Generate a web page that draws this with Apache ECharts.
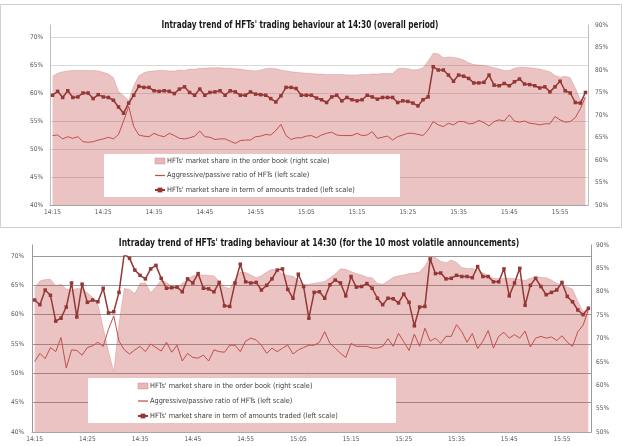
<!DOCTYPE html>
<html><head><meta charset="utf-8">
<script src="https://cdn.jsdelivr.net/npm/echarts@6/dist/echarts.min.js"></script>
<style>html,body{margin:0;padding:0;background:#fff}#c{width:623px;height:446px}</style>
</head><body><div id="c"></div>
<script>
// categories: one per minute, 14:15 .. 16:00
const minutes = [];
for (let m = 0; m < 106; m++) { const t = 14 * 60 + 15 + m; minutes.push(Math.floor(t / 60) + ':' + String(t % 60).padStart(2, '0')); }

const titleTop = "Intraday trend of HFTs' trading behaviour at 14:30 (overall period)";
const titleBottom = "Intraday trend of HFTs' trading behaviour at 14:30 (for the 10 most volatile announcements)";
const NAME_BOOK = "HFTs' market share in the order book (right scale)";
const NAME_RATIO = "Aggressive/passive ratio of HFTs (left scale)";
const NAME_TRADED = "HFTs' market share in term of amounts traded (left scale)";

// ---- top panel (overall period) ----
const topOrderBook = [78.6,79.3,79.6,79.8,79.9,79.9,79.9,79.9,79.9,79.8,
 79.5,79.1,78.3,75.2,74.3,73.2,76.5,78.7,79.4,79.7,
 79.8,79.9,79.9,79.8,79.8,80.0,79.9,80.2,80.1,80.4,
 80.4,80.5,80.5,80.5,80.4,80.4,80.3,80.2,80.0,79.9,
 79.8,80.0,80.3,80.4,80.3,80.0,79.8,79.6,79.5,79.4,
 79.3,79.2,79.1,79.1,79.0,79.0,79.0,79.0,78.9,78.9,
 78.9,79.0,79.0,79.1,79.1,79.2,79.2,79.2,80.3,80.4,
 80.3,80.0,80.1,80.5,82.0,83.7,83.6,82.7,82.9,82.8,
 82.6,82.2,81.6,81.2,81.1,81.0,80.8,80.5,80.2,79.9,
 79.9,80.4,80.6,80.6,80.5,80.4,80.2,79.9,79.6,78.8,
 78.4,78.6,78.3,76.0,73.3,73.8];
const topRatio = [52.4,52.5,51.8,52.2,51.9,52.2,51.3,51.2,51.3,51.6,
 51.8,52.1,51.8,52.6,55.0,57.6,54.0,52.5,52.3,52.2,
 52.8,52.4,52.2,52.8,52.4,51.9,51.8,52.0,52.3,53.2,
 52.2,52.1,51.7,51.8,51.8,51.4,51.0,51.5,51.6,51.6,
 52.2,52.3,52.6,52.5,53.3,54.4,52.4,51.7,52.0,52.0,
 52.3,52.4,52.0,52.5,52.8,53.0,52.5,52.4,52.4,52.4,
 52.8,52.4,52.5,53.1,51.9,52.1,52.3,51.6,52.2,52.5,
 52.8,52.8,52.6,52.4,53.4,54.9,54.3,54.0,54.6,54.3,
 54.9,54.9,54.5,54.6,55.1,54.7,54.1,54.9,55.2,55.0,
 56.1,55.0,54.8,55.0,54.6,54.5,54.3,54.5,54.5,55.8,
 55.2,54.8,54.9,55.6,57.2,59.3];
const topTraded = [59.6,60.3,59.2,60.4,59.2,59.3,60.0,60.0,59.0,59.7,
 59.3,59.2,58.7,57.5,56.4,58.2,59.6,61.2,61.0,61.0,
 60.4,60.3,60.4,60.3,59.9,60.7,61.1,60.1,59.6,60.7,
 59.6,60.1,60.2,60.4,59.6,60.4,60.2,59.6,59.6,60.2,
 59.8,59.7,59.6,59.0,58.4,59.5,61.0,61.0,60.8,59.6,
 59.6,59.6,59.1,58.8,58.3,59.3,59.6,58.6,59.2,58.8,
 58.6,58.8,59.6,59.3,58.9,59.2,59.2,59.2,58.3,58.6,
 58.5,58.2,57.7,58.8,59.3,64.7,64.1,64.1,63.2,62.1,
 63.2,63.0,62.6,61.8,61.8,61.9,63.2,61.4,61.3,61.7,
 61.3,62.0,62.5,61.6,61.5,61.3,60.9,61.1,60.2,61.1,
 62.1,60.4,60.0,58.3,58.2,60.1];

// ---- bottom panel (10 most volatile announcements) ----
const botOrderBook = [80.8,82.3,82.6,82.7,81.3,81.6,80.6,80.3,80.7,80.6,
 79.8,78.8,77.3,72.3,67.3,62.9,73.2,80.7,80.5,79.6,
 81.8,81.9,79.8,81.0,82.5,82.0,81.2,80.8,81.8,82.6,
 83.4,83.6,83.6,83.5,83.4,82.2,81.0,80.7,82.6,84.2,
 84.1,83.6,83.0,83.4,84.2,84.8,84.6,83.8,83.5,83.3,
 82.5,81.5,81.6,81.8,82.0,82.2,83.0,83.8,84.9,84.8,
 84.3,83.9,83.6,83.1,83.0,81.8,81.6,82.3,83.1,83.4,
 83.6,83.9,84.0,84.2,85.5,87.4,87.3,86.5,86.2,86.8,
 86.3,85.2,85.0,85.0,84.6,84.0,83.5,82.9,82.8,82.9,
 82.9,82.8,82.6,82.4,82.9,83.2,83.1,83.0,82.5,81.8,
 81.4,81.0,80.6,78.0,75.7,76.4];
const botRatio = [52.0,53.4,52.5,54.4,53.7,56.1,50.9,54.0,53.9,53.1,
 54.4,54.7,55.3,54.6,57.5,59.8,55.5,54.0,53.3,54.0,
 54.6,53.7,55.0,54.4,53.8,55.3,53.6,54.8,52.1,53.4,
 52.7,52.6,53.1,52.1,54.0,53.7,53.6,54.8,54.8,53.7,
 55.5,56.0,55.7,54.8,53.4,54.3,53.7,54.3,54.8,53.3,
 54.0,54.4,54.8,54.8,55.3,57.1,55.1,54.3,53.4,52.7,
 55.1,54.6,54.6,54.6,54.3,54.3,54.6,55.9,54.6,56.8,
 55.4,53.9,56.7,54.6,57.7,55.5,56.0,55.1,56.3,56.3,
 58.3,57.1,55.3,56.8,54.2,55.5,57.3,54.3,56.3,57.0,
 56.0,56.6,56.0,57.2,54.5,56.0,56.3,56.0,56.2,55.6,
 56.4,55.3,54.6,57.1,58.2,60.8];
const botTraded = [62.5,61.7,64.2,63.3,58.9,59.4,61.3,65.4,59.6,65.2,
 62.1,62.5,62.2,64.5,60.3,60.5,63.8,70.4,69.6,67.6,
 66.7,66.1,67.8,68.4,66.2,64.5,64.6,64.7,63.9,66.1,
 65.4,67.0,64.5,64.4,63.9,65.5,61.5,61.4,65.4,68.6,
 65.6,65.4,65.5,64.2,65.0,66.1,67.6,67.8,64.3,62.8,
 66.9,64.8,59.4,63.8,63.9,62.8,65.1,65.9,65.4,63.2,
 66.5,64.7,64.8,65.3,64.5,62.8,61.7,62.8,62.7,62.0,
 63.5,62.1,58.1,61.3,61.4,69.5,67.0,67.1,66.1,66.2,
 66.7,66.5,66.5,66.3,68.2,66.5,66.5,65.6,65.6,67.8,
 63.2,65.4,67.9,61.6,65.0,66.2,64.8,63.4,63.8,64.2,
 65.5,63.1,62.2,60.8,60.0,61.1];

const FONT = "'Liberation Sans Narrow','DejaVu Sans Condensed','Liberation Sans',sans-serif";
const LBL = '#595959';

function xAxis(gi, show) {
  return { type: 'category', gridIndex: gi, data: minutes, boundaryGap: true, show: show,
    axisLine: { lineStyle: { color: '#a6a6a6', width: 1 } }, axisTick: { show: false },
    axisLabel: { interval: 9, fontSize: 6.5, color: LBL, margin: 4, fontFamily: FONT },
    splitLine: { show: false } };
}
function yAxis(gi, pos, min, max, opts) {
  return Object.assign({ type: 'value', gridIndex: gi, position: pos, min: min, max: max, interval: 5,
    axisLine: { show: false }, axisTick: { show: false },
    axisLabel: { formatter: '{value}%', fontSize: 6.5, color: LBL, fontFamily: FONT, margin: 7 },
    splitLine: { show: false } }, opts);
}
function areaSeries(xi, yi, data) {
  return { type: 'line', name: NAME_BOOK, xAxisIndex: xi, yAxisIndex: yi, data: data, symbol: 'none',
    lineStyle: { width: 0.8, color: 'rgba(192,80,77,0.3)' }, itemStyle: { color: '#E6B9B8' },
    areaStyle: { color: 'rgba(192,80,77,0.34)', origin: 'start', opacity: 1 }, z: 2, silent: true };
}
function ratioSeries(xi, yi, data) {
  return { type: 'line', name: NAME_RATIO, xAxisIndex: xi, yAxisIndex: yi, data: data, symbol: 'none',
    lineStyle: { color: '#C0504D', width: 1 }, itemStyle: { color: '#C0504D' }, z: 3, silent: true };
}
function tradedSeries(xi, yi, data) {
  return { type: 'line', name: NAME_TRADED, xAxisIndex: xi, yAxisIndex: yi, data: data, symbol: 'rect',
    symbolSize: 3.5, showAllSymbol: true, lineStyle: { color: '#953735', width: 1.5 },
    itemStyle: { color: '#953735' }, z: 4, silent: true };
}
function legend(left, top, gap) {
  return { orient: 'vertical', left: left, top: top, padding: 0, itemWidth: 10, itemHeight: 6, itemGap: gap,
    selectedMode: false, z: 20,
    textStyle: { fontSize: 7.3, lineHeight: 8, color: '#404040', fontFamily: FONT, padding: [0, 0, 0, -3] },
    data: [ { name: NAME_BOOK, icon: 'rect', itemStyle: { color: '#E6B9B8', borderColor: '#d08a88', borderWidth: 0.5 } },
            { name: NAME_RATIO, icon: 'path://M0,0L40,0L40,5L0,5Z', itemStyle: { color: '#C0504D' } },
            { name: NAME_TRADED } ] };
}

const chart = echarts.init(document.getElementById('c'), null, { renderer: 'canvas' });
chart.setOption({
  animation: false,
  backgroundColor: '#ffffff',
  grid: [
    { left: 50, right: 35, top: 37, height: 168 },
    { left: 50, right: 35, top: 25, height: 180 },
    { left: 32, right: 32, top: 256, height: 176 },
    { left: 32, right: 32, top: 245, height: 187 }
  ],
  xAxis: [ xAxis(0, true), xAxis(1, false), xAxis(2, true), xAxis(3, false) ],
  yAxis: [
    yAxis(0, 'left', 40, 70, { splitLine: { show: true, lineStyle: { color: '#d9d9d9', width: 1 } } }),
    yAxis(1, 'right', 50, 90, { axisLine: { show: true, lineStyle: { color: '#bfbfbf' } } }),
    yAxis(2, 'left', 40, 70, { splitLine: { show: true, lineStyle: { color: '#9a9a9a', width: 1 } }, axisLabel: { formatter: '{value}%', fontSize: 6.5, color: LBL, fontFamily: FONT, margin: 8 } }),
    yAxis(3, 'right', 50, 90, { axisLine: { show: true, lineStyle: { color: '#9a9a9a' } }, axisLabel: { formatter: '{value}%', fontSize: 6.5, color: LBL, fontFamily: FONT, margin: 5 } }),
    yAxis(1, 'left', 50, 90, { axisLine: { show: true, lineStyle: { color: '#bfbfbf' } }, axisLabel: { show: false } }),
    yAxis(3, 'left', 50, 90, { axisLine: { show: true, lineStyle: { color: '#9a9a9a' } }, axisLabel: { show: false } })
  ],
  legend: [ legend(154, 157, 6.5), legend(137, 382, 7) ],
  series: [
    areaSeries(1, 1, topOrderBook), ratioSeries(0, 0, topRatio), tradedSeries(0, 0, topTraded),
    areaSeries(3, 3, botOrderBook), ratioSeries(2, 2, botRatio), tradedSeries(2, 2, botTraded)
  ],
  graphic: { elements: [
    { type: 'rect', silent: true, z: 1, shape: { x: 0.5, y: 4.5, width: 621, height: 223 }, style: { fill: null, stroke: '#cfcfcf', lineWidth: 1 } },
    { type: 'rect', silent: true, z: 10, shape: { x: 104, y: 154, width: 296, height: 43 }, style: { fill: '#ffffff' } },
    { type: 'rect', silent: true, z: 10, shape: { x: 88, y: 378, width: 308, height: 45 }, style: { fill: '#ffffff' } },
    { type: 'text', silent: true, z: 10, x: 300, y: 25, scaleX: 0.78, style: { text: titleTop, font: "bold 10.5px " + FONT, fill: '#1a1a1a', align: 'center', verticalAlign: 'middle', textAlign: 'center', textVerticalAlign: 'middle' } },
    { type: 'text', silent: true, z: 10, x: 319, y: 243, scaleX: 0.81, style: { text: titleBottom, font: "bold 10.5px " + FONT, fill: '#1a1a1a', align: 'center', verticalAlign: 'middle', textAlign: 'center', textVerticalAlign: 'middle' } }
  ] }
});
</script></body></html>
